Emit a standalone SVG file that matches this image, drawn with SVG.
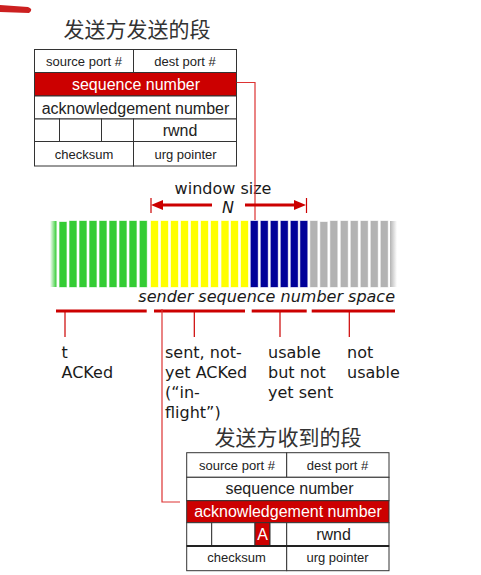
<svg xmlns="http://www.w3.org/2000/svg" width="481" height="575" viewBox="0 0 481 575">
<style>
.cell{fill:#fff;stroke:#333;stroke-width:1}
.red{fill:#cc0000;stroke:#333;stroke-width:1}
.sm{font-family:"Liberation Sans",Arial,sans-serif;font-size:13px;fill:#222;text-anchor:middle}
.md{font-family:"Liberation Sans",Arial,sans-serif;font-size:16px;fill:#222;text-anchor:middle}
.wt{fill:#fff}
.cjk{font-family:"Noto Sans CJK SC","Liberation Sans",sans-serif;font-size:21px;fill:#333;text-anchor:middle}
.lbl{font-family:"DejaVu Sans",Verdana,sans-serif;font-size:16px;fill:#1a1a1a}
.g{fill:#33cc33;stroke:#33cc33;stroke-opacity:.35}
.y{fill:#ffff00;stroke:#ffff00;stroke-opacity:.35}
.b{fill:#000099;stroke:#000099;stroke-opacity:.35}
.k{fill:#b3b3b3;stroke:#b3b3b3;stroke-opacity:.35}
.thin{stroke:#dd3333;stroke-width:1.2;fill:none}
.seg{stroke:#cc0000;stroke-width:3}
.tick{stroke:#cc0000;stroke-width:1.2}
</style>
<defs>
<marker id="ah" viewBox="0 0 12 10" refX="0" refY="5" markerWidth="12" markerHeight="10" orient="auto" markerUnits="userSpaceOnUse">
<path d="M0,0 L12,5 L0,10 z" fill="#cc0000"/>
</marker>
<linearGradient id="fadeL" x1="0" x2="1" y1="0" y2="0">
<stop offset="0" stop-color="#33cc33" stop-opacity="0"/>
<stop offset="1" stop-color="#33cc33" stop-opacity="1"/>
</linearGradient>
<linearGradient id="fadeR" x1="0" x2="1" y1="0" y2="0">
<stop offset="0" stop-color="#b3b3b3" stop-opacity="1"/>
<stop offset="1" stop-color="#b3b3b3" stop-opacity="0"/>
</linearGradient>
</defs>

<path id="brush" d="M0,5 L28,7 Q34,9 29,13 L0,12 Z" fill="#cc2020"/>

<g id="sent-segment">
<text class="cjk" x="137" y="37">发送方发送的段</text>
<rect class="cell" x="34.5" y="49.5" width="99" height="23"/>
<rect class="cell" x="133.5" y="49.5" width="103" height="23"/>
<rect class="red" x="34.5" y="72.5" width="202" height="23.5"/>
<rect class="cell" x="34.5" y="96" width="202" height="23"/>
<rect class="cell" x="34.5" y="119" width="25" height="22.5"/>
<rect class="cell" x="59.5" y="119" width="42" height="22.5"/>
<rect class="cell" x="101.5" y="119" width="32" height="22.5"/>
<rect class="cell" x="133.5" y="119" width="103" height="22.5"/>
<rect class="cell" x="34.5" y="141.5" width="99" height="24.5"/>
<rect class="cell" x="133.5" y="141.5" width="103" height="24.5"/>
<text class="sm" x="84" y="65.5">source port #</text>
<text class="sm" x="185" y="65.5">dest port #</text>
<text class="md wt" x="136" y="89.5">sequence number</text>
<text class="md" x="135.5" y="113.5">acknowledgement number</text>
<text class="md" x="180" y="135.5">rwnd</text>
<text class="sm" x="84" y="158.5">checksum</text>
<text class="sm" x="185.5" y="158.5">urg pointer</text>
</g>

<g id="window">
<text class="lbl" x="223" y="194" text-anchor="middle">window size</text>
<text class="lbl" x="228" y="213" text-anchor="middle" font-style="italic">N</text>
</g>

<g id="seq-space">
<rect x="50" y="221" width="6.5" height="66" fill="url(#fadeL)"/>
<g class="g">
<rect x="59.5" y="222" width="7" height="65"/>
<rect x="69.5" y="221" width="7" height="66"/>
<rect x="79.5" y="221" width="7" height="66"/>
<rect x="89.5" y="221" width="7" height="66"/>
<rect x="99.5" y="221" width="7" height="66"/>
<rect x="109.5" y="221" width="7" height="66"/>
<rect x="119.5" y="221" width="7" height="66"/>
<rect x="129.5" y="221" width="7" height="66"/>
<rect x="139.8" y="221" width="7" height="66"/>
</g>
<g class="y">
<rect x="151" y="221" width="7" height="66"/>
<rect x="161" y="221" width="7" height="66"/>
<rect x="171" y="221" width="7" height="66"/>
<rect x="181" y="221" width="7" height="66"/>
<rect x="191" y="221" width="7" height="66"/>
<rect x="201" y="221" width="7" height="66"/>
<rect x="211" y="221" width="7" height="66"/>
<rect x="221.5" y="221" width="7" height="66"/>
<rect x="231" y="221" width="7" height="66"/>
<rect x="241" y="221" width="7" height="66"/>
</g>
<g class="b">
<rect x="250.8" y="221" width="7" height="66"/>
<rect x="260.8" y="221" width="7" height="66"/>
<rect x="270.8" y="221" width="7" height="66"/>
<rect x="280.8" y="221" width="7" height="66"/>
<rect x="290.8" y="221" width="7" height="66"/>
<rect x="300.3" y="221" width="7" height="66"/>
</g>
<g class="k">
<rect x="310.3" y="221" width="7" height="66"/>
<rect x="320.3" y="222" width="7" height="65"/>
<rect x="330.3" y="221" width="7" height="66"/>
<rect x="340.8" y="221" width="7" height="66"/>
<rect x="350.8" y="221" width="7" height="66"/>
<rect x="360.8" y="221" width="7" height="66"/>
<rect x="370.8" y="221" width="7" height="66"/>
<rect x="380.8" y="221" width="7" height="66"/>
</g>
<rect x="390" y="221" width="7" height="66" fill="url(#fadeR)"/>
<text class="lbl" x="395" y="302" text-anchor="end" font-style="italic">sender sequence number space</text>
</g>

<g id="labels">
<text class="lbl" x="61.5" y="358">t</text>
<text class="lbl" x="61.5" y="378">ACKed</text>
<text class="lbl" x="165" y="358">sent, not-</text>
<text class="lbl" x="165" y="378">yet ACKed</text>
<text class="lbl" x="165" y="398">(“in-</text>
<text class="lbl" x="165" y="418">flight”)</text>
<text class="lbl" x="268" y="358">usable</text>
<text class="lbl" x="268" y="378">but not</text>
<text class="lbl" x="268" y="398">yet sent</text>
<text class="lbl" x="347" y="358">not</text>
<text class="lbl" x="347" y="378">usable</text>
</g>

<g id="received-segment">
<text class="cjk" x="288" y="445">发送方收到的段</text>
<rect class="cell" x="186.7" y="452.7" width="100" height="24.6"/>
<rect class="cell" x="286.7" y="452.7" width="102.3" height="24.6"/>
<rect class="cell" x="186.7" y="477.3" width="202.3" height="23.4"/>
<rect class="red" x="186.7" y="500.7" width="202.3" height="22"/>
<rect class="cell" x="186.7" y="522.7" width="25" height="23.3"/>
<rect class="cell" x="211.7" y="522.7" width="43.3" height="23.3"/>
<rect class="red" x="255" y="522.7" width="15" height="23.3"/>
<rect class="cell" x="270" y="522.7" width="16.7" height="23.3"/>
<rect class="cell" x="286.7" y="522.7" width="102.3" height="23.3"/>
<rect class="cell" x="186.7" y="546" width="100" height="24.7"/>
<rect class="cell" x="286.7" y="546" width="102.3" height="24.7"/>
<line x1="186.7" y1="546" x2="389" y2="546" stroke="#222" stroke-width="2"/>
<text class="sm" x="237" y="469.5">source port #</text>
<text class="sm" x="337.5" y="469.5">dest port #</text>
<text class="md" x="289.5" y="494">sequence number</text>
<text class="md wt" x="288" y="517">acknowledgement number</text>
<text class="md wt" x="262.5" y="539.5">A</text>
<text class="md" x="333.5" y="539.5">rwnd</text>
<text class="sm" x="236.5" y="562">checksum</text>
<text class="sm" x="337.5" y="562">urg pointer</text>
</g>

<g id="connectors">
<polyline class="thin" points="236.7,82.5 255,82.5 255,220"/>
<line x1="212" y1="205" x2="163" y2="205" stroke="#cc0000" stroke-width="3" marker-end="url(#ah)"/>
<line x1="245" y1="205" x2="294" y2="205" stroke="#cc0000" stroke-width="3" marker-end="url(#ah)"/>
<line class="tick" x1="151" y1="198" x2="151" y2="213"/>
<line class="tick" x1="306.5" y1="198" x2="306.5" y2="213"/>
<line class="seg" x1="56" y1="311" x2="146.7" y2="311"/>
<line class="seg" x1="154" y1="311" x2="245" y2="311"/>
<line class="seg" x1="251.7" y1="311" x2="306.7" y2="311"/>
<line class="seg" x1="311.7" y1="311" x2="395" y2="311"/>
<line class="tick" x1="65" y1="311" x2="65" y2="337"/>
<line class="tick" x1="194.3" y1="311" x2="194.3" y2="337"/>
<line class="tick" x1="280" y1="311" x2="280" y2="337"/>
<line class="tick" x1="349.3" y1="311" x2="349.3" y2="337"/>
<polyline class="thin" points="162,309 162,502 180,502"/>
</g>
</svg>
